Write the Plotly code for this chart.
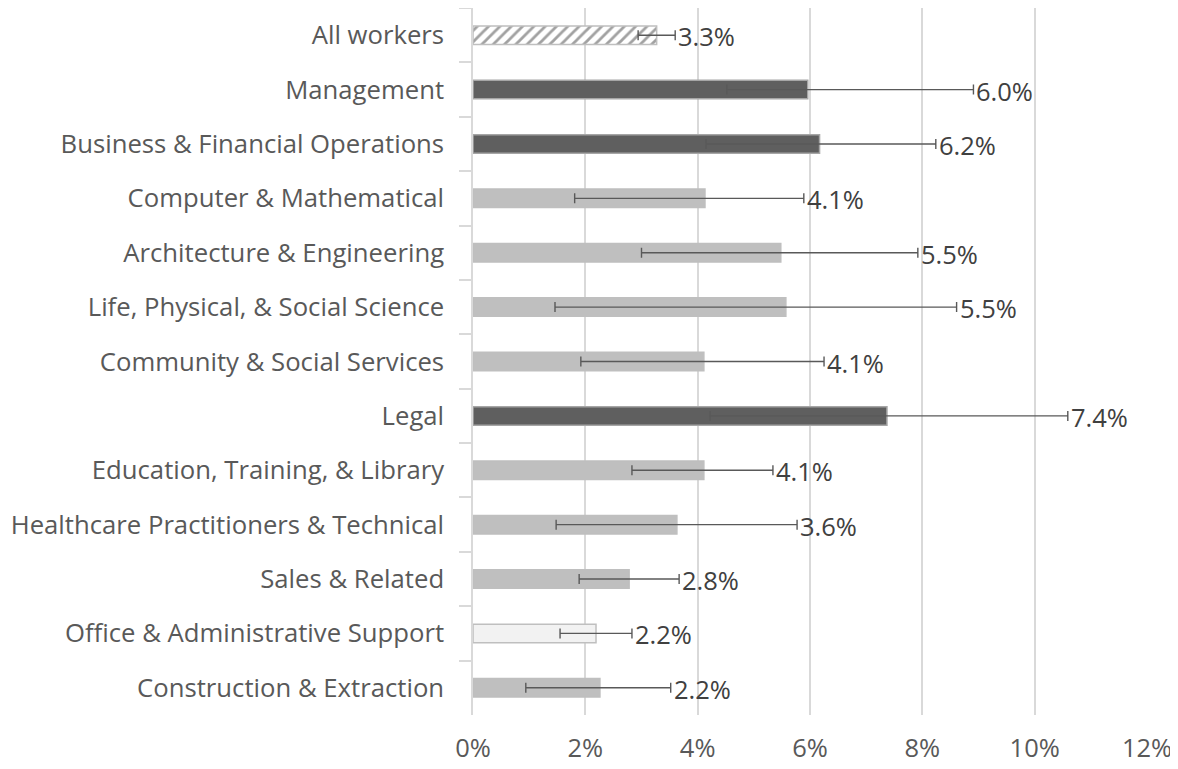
import plotly.graph_objects as go

categories = [
    "All workers", "Management", "Business & Financial Operations",
    "Computer & Mathematical", "Architecture & Engineering",
    "Life, Physical, & Social Science", "Community & Social Services",
    "Legal", "Education, Training, & Library",
    "Healthcare Practitioners & Technical", "Sales & Related",
    "Office & Administrative Support", "Construction & Extraction",
]
values = [3.27, 5.96, 6.17, 4.13, 5.48, 5.57, 4.11, 7.37, 4.11, 3.63, 2.78, 2.19, 2.26]
err_low = [2.94, 4.52, 4.15, 1.81, 3.00, 1.46, 1.92, 4.22, 2.83, 1.48, 1.89, 1.55, 0.94]
err_high = [3.60, 8.91, 8.24, 5.89, 7.92, 8.61, 6.25, 10.59, 5.34, 5.77, 3.67, 2.83, 3.52]
labels = ["3.3%", "6.0%", "6.2%", "4.1%", "5.5%", "5.5%", "4.1%", "7.4%",
          "4.1%", "3.6%", "2.8%", "2.2%", "2.2%"]
tier = ["all", "high", "high", "mid", "mid", "mid", "mid", "high",
        "mid", "mid", "mid", "low", "mid"]
x_ticks = [0, 2, 4, 6, 8, 10, 12]
x_tick_labels = ["0%", "2%", "4%", "6%", "8%", "10%", "12%"]

fill_map = {"all": "white", "high": "#5f5f5f", "mid": "#bfbfbf", "low": "#f2f2f2"}
line_map = {"all": "#bfbfbf", "high": "#a6a6a6", "mid": "#bfbfbf", "low": "#bfbfbf"}
colors = [fill_map[t] for t in tier]
line_colors = [line_map[t] for t in tier]
shapes = ["/" if t == "all" else "" for t in tier]

plus = [h - v for h, v in zip(err_high, values)]
minus = [v - l for v, l in zip(values, err_low)]

fig = go.Figure()
fig.add_trace(go.Bar(
    y=categories, x=values, orientation="h",
    marker=dict(
        color=colors,
        line=dict(color=line_colors, width=1.5),
        pattern=dict(shape=shapes, fgcolor="#c8c8c8", bgcolor="white",
                     size=8, solidity=0.35),
    ),
    error_x=dict(type="data", symmetric=False, array=plus, arrayminus=minus,
                 color="#595959", thickness=1.4, width=5),
    showlegend=False,
    hoverinfo="skip",
))

for cat, xh, lab in zip(categories, err_high, labels):
    fig.add_annotation(
        x=xh, y=cat, text=lab, showarrow=False,
        xanchor="left", yanchor="middle", xshift=1, yshift=-1,
        font=dict(family="Open Sans", size=25.5, color="#404040"),
    )

fig.update_layout(
    width=1170, height=761,
    margin=dict(l=465, r=31, t=0, b=54),
    paper_bgcolor="white", plot_bgcolor="white",
    bargap=0.66,
    font=dict(family="Open Sans", color="#595959"),
    xaxis=dict(
        range=[0, 12], tickvals=x_ticks, ticktext=x_tick_labels,
        showgrid=True, gridcolor="#d9d9d9", gridwidth=1.5,
        zeroline=False, showline=False,
        tickfont=dict(family="Open Sans", size=25.5, color="#595959"),
        ticks="", ticklabelstandoff=15,
    ),
    yaxis=dict(
        categoryorder="array", categoryarray=categories,
        autorange="reversed",
        showline=True, linecolor="#d9d9d9", linewidth=1.5,
        ticks="outside", tickson="boundaries", ticklen=12,
        tickcolor="#d9d9d9", tickwidth=1.5,
        tickfont=dict(family="Open Sans", size=25.7, color="#595959"),
        showgrid=False, ticklabelstandoff=22,
    ),
)

fig.write_html("out.html")
